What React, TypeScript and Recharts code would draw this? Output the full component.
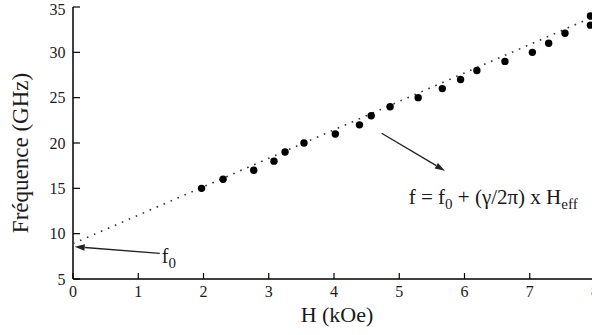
import React from 'react';
import {
  ScatterChart,
  Scatter,
  XAxis,
  YAxis,
  ReferenceLine,
  ReferenceDot,
} from 'recharts';

// Measured resonance points: H (kOe) vs frequency (GHz)
const fieldH = [1.97, 2.3, 2.77, 3.08, 3.25, 3.54, 4.02, 4.39, 4.57, 4.86, 5.29, 5.66, 5.94, 6.19, 6.62, 7.04, 7.29, 7.54, 7.93, 7.93];
const freqF = [15.0, 16.0, 17.0, 18.0, 19.0, 20.0, 21.0, 22.0, 23.0, 24.0, 25.0, 26.0, 27.0, 28.0, 29.0, 30.0, 31.0, 32.1, 33.0, 34.0];

// Linear fit end points
const fitH = [0, 8];
const fitF = [8.9, 34.0];

const xTicks = [0, 1, 2, 3, 4, 5, 6, 7, 8];
const yTicks = [5, 10, 15, 20, 25, 30, 35];

// annotation anchors (data coordinates)
const f0Arrow = [{ x: 1.33, y: 7.83 }, { x: 0.026, y: 8.56 }];
const fitArrow = [{ x: 4.73, y: 21.07 }, { x: 5.7, y: 16.94 }];
const f0LabelPos = { x: 1.36, y: 6.76 };
const formulaPos = { x: 5.145, y: 13.27 };

const points = fieldH.map((h, i) => ({ h, f: freqF[i] }));
const fitLine = fitH.map((h, i) => ({ h, f: fitF[i] }));

const FONT = 'Liberation Serif, Times New Roman, Times, serif';
const INK = '#1a1a1a';

const Dot = (p: any) => <circle cx={p.cx} cy={p.cy} r={3.7} fill="#000" />;
const NoDot = () => <g />;

const Arrow = (p: any) => {
  const { x1, y1, x2, y2 } = p;
  const a = Math.atan2(y2 - y1, x2 - x1);
  const L = 10;
  const W = 3.2;
  const bx = x2 - L * Math.cos(a);
  const by = y2 - L * Math.sin(a);
  const px = -Math.sin(a) * W;
  const py = Math.cos(a) * W;
  return (
    <g>
      <line x1={x1} y1={y1} x2={bx} y2={by} stroke="#222" strokeWidth={1.3} />
      <polygon points={`${x2},${y2} ${bx + px},${by + py} ${bx - px},${by - py}`} fill="#222" />
    </g>
  );
};

const F0Text = (p: any) => (
  <text x={p.cx} y={p.cy} style={{ fontFamily: FONT }} fontSize={20} fill={INK}>
    f
    <tspan fontSize={15} dy={5}>0</tspan>
  </text>
);

const FormulaText = (p: any) => (
  <text x={p.cx} y={p.cy} style={{ fontFamily: FONT }} fontSize={21} fill={INK}>
    {'f = f'}
    <tspan fontSize={15} dy={5}>0</tspan>
    <tspan dy={-5}>{' + (\u03B3/2\u03C0) x H'}</tspan>
    <tspan fontSize={15} dy={5}>eff</tspan>
  </text>
);

const XLabel = (props: any) => {
  const vb = props.viewBox;
  return (
    <text x={vb.x + vb.width / 2 + 3} y={vb.y + 43} textAnchor="middle" style={{ fontFamily: FONT }} fontSize={22} fill={INK}>
      H (kOe)
    </text>
  );
};

const YLabel = (props: any) => {
  const vb = props.viewBox;
  const cx = vb.x + 27.5;
  const cy = vb.y + vb.height / 2 + 10;
  return (
    <text x={cx} y={cy} textAnchor="middle" transform={`rotate(-90 ${cx} ${cy})`} style={{ fontFamily: FONT }} fontSize={23} fill={INK}>
      Fréquence (GHz)
    </text>
  );
};

const tickStyle = { fontFamily: FONT, fontSize: 16, fill: INK, style: { fontFamily: FONT } };

export default function App() {
  return (
    <div style={{ position: 'absolute', left: 0, top: 0, width: 592, height: 335, overflow: 'hidden', background: '#fff', fontFamily: FONT }}>
      <ScatterChart width={600} height={335} margin={{ top: 7, right: 5, bottom: 0, left: 0 }} style={{ fontFamily: FONT }}>
        <XAxis
          xAxisId="0"
          dataKey="h"
          type="number"
          domain={[0, 8]}
          ticks={xTicks}
          allowDataOverflow
          height={56}
          tickSize={-6}
          tickMargin={13}
          tick={tickStyle}
          axisLine={{ stroke: '#000', strokeWidth: 1.5 }}
          tickLine={{ stroke: '#000', strokeWidth: 1.2 }}
          label={<XLabel />}
        />
        <XAxis
          xAxisId="top"
          orientation="top"
          type="number"
          domain={[0, 8]}
          ticks={xTicks}
          allowDataOverflow
          height={0}
          tickSize={-4}
          tickFormatter={() => ''}
          axisLine={{ stroke: '#000', strokeWidth: 1.5 }}
          tickLine={{ stroke: '#999', strokeWidth: 1 }}
        />
        <YAxis
          yAxisId="0"
          dataKey="f"
          type="number"
          domain={[5, 35]}
          ticks={yTicks}
          allowDataOverflow
          width={73}
          tickSize={-7}
          tickMargin={14.5}
          tick={tickStyle}
          axisLine={{ stroke: '#000', strokeWidth: 1.5 }}
          tickLine={{ stroke: '#000', strokeWidth: 1.2 }}
          label={<YLabel />}
        />
        <YAxis
          yAxisId="right"
          orientation="right"
          type="number"
          domain={[5, 35]}
          ticks={yTicks}
          allowDataOverflow
          width={0}
          tickSize={-4}
          tickFormatter={() => ''}
          axisLine={{ stroke: '#000', strokeWidth: 1.5 }}
          tickLine={{ stroke: '#999', strokeWidth: 1 }}
        />
        <Scatter
          xAxisId="0"
          yAxisId="0"
          data={fitLine}
          line={{ stroke: '#333', strokeWidth: 1.6, strokeDasharray: '1.6 6' }}
          shape={NoDot}
          isAnimationActive={false}
        />
        <Scatter xAxisId="0" yAxisId="0" data={points} shape={Dot} isAnimationActive={false} />
        <ReferenceLine xAxisId="0" yAxisId="0" segment={f0Arrow} ifOverflow="visible" shape={Arrow} />
        <ReferenceLine xAxisId="0" yAxisId="0" segment={fitArrow} ifOverflow="visible" shape={Arrow} />
        <ReferenceDot xAxisId="0" yAxisId="0" x={f0LabelPos.x} y={f0LabelPos.y} ifOverflow="visible" shape={F0Text} />
        <ReferenceDot xAxisId="0" yAxisId="0" x={formulaPos.x} y={formulaPos.y} ifOverflow="visible" shape={FormulaText} />
      </ScatterChart>
    </div>
  );
}
